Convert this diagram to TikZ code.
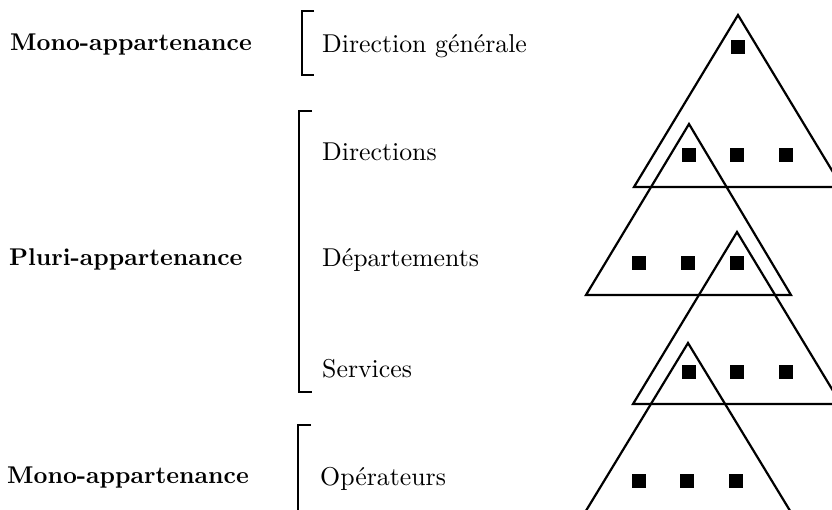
\documentclass[tikz,border=0pt]{standalone}
\usepackage{fontspec}
\usepackage{tikz}
\newfontfamily\levelfont{lmroman10-regular.otf}
\newfontfamily\kindfont{lmroman10-bold.otf}
\tikzstyle{Kind}=[anchor=base west, inner sep=0, font=\kindfont\fontsize{24.2}{28}\selectfont]
\tikzstyle{Level}=[anchor=base west, inner sep=0, font=\levelfont\fontsize{25.8}{30}\selectfont]
\tikzstyle{Cell}=[rectangle, fill=black, minimum size=14, inner sep=0]
\tikzstyle{Pyramid}=[line width=2.2, line join=miter]
\tikzstyle{Brace}=[line width=2]

\begin{document}
\begin{tikzpicture}[x=1pt, y=-1pt]
    \useasboundingbox (0,0) rectangle (832,509);
    \clip (0,0) rectangle (832,509);

    % labels on the left
    \path
    (10,50) node[Kind] (mono1) {Mono-appartenance}
    (9,265) node[Kind] (pluri) {Pluri-appartenance}
    (7,483) node[Kind] (mono2) {Mono-appartenance};

    \path
    (322,52) node[Level] (dg) {Direction générale}
    (322,160) node[Level] (dir) {Directions}
    (322,266) node[Level] (dep) {Départements}
    (322,377) node[Level] (serv) {Services}
    (320,485) node[Level] (oper) {Opérateurs};

    % brackets
    \draw[Brace] (314,11) -- (302,11) -- (302,75) -- (314,75);
    \draw[Brace] (312,111) -- (299,111) -- (299,392) -- (312,392);
    \draw[Brace] (311,425) -- (298,425) -- (298,520);

    % pyramids
    \draw[Pyramid] (738,15) -- (634,187) -- (842,187) -- cycle;
    \draw[Pyramid] (689,124) -- (586,295) -- (791,295) -- cycle;
    \draw[Pyramid] (737,232) -- (633,404) -- (841,404) -- cycle;
    \draw[Pyramid] (688,343) -- (584,514) -- (792,514) -- cycle;

    % members
    \path
    (738,47) node[Cell] (c0) {}
    (689,155) node[Cell] (a1) {}
    (737,155) node[Cell] (a2) {}
    (786,155) node[Cell] (a3) {}
    (639,263) node[Cell] (b1) {}
    (688,263) node[Cell] (b2) {}
    (737,263) node[Cell] (b3) {}
    (689,372) node[Cell] (s1) {}
    (737,372) node[Cell] (s2) {}
    (786,372) node[Cell] (s3) {}
    (639,481) node[Cell] (o1) {}
    (687,481) node[Cell] (o2) {}
    (736,481) node[Cell] (o3) {};
\end{tikzpicture}
\end{document}
